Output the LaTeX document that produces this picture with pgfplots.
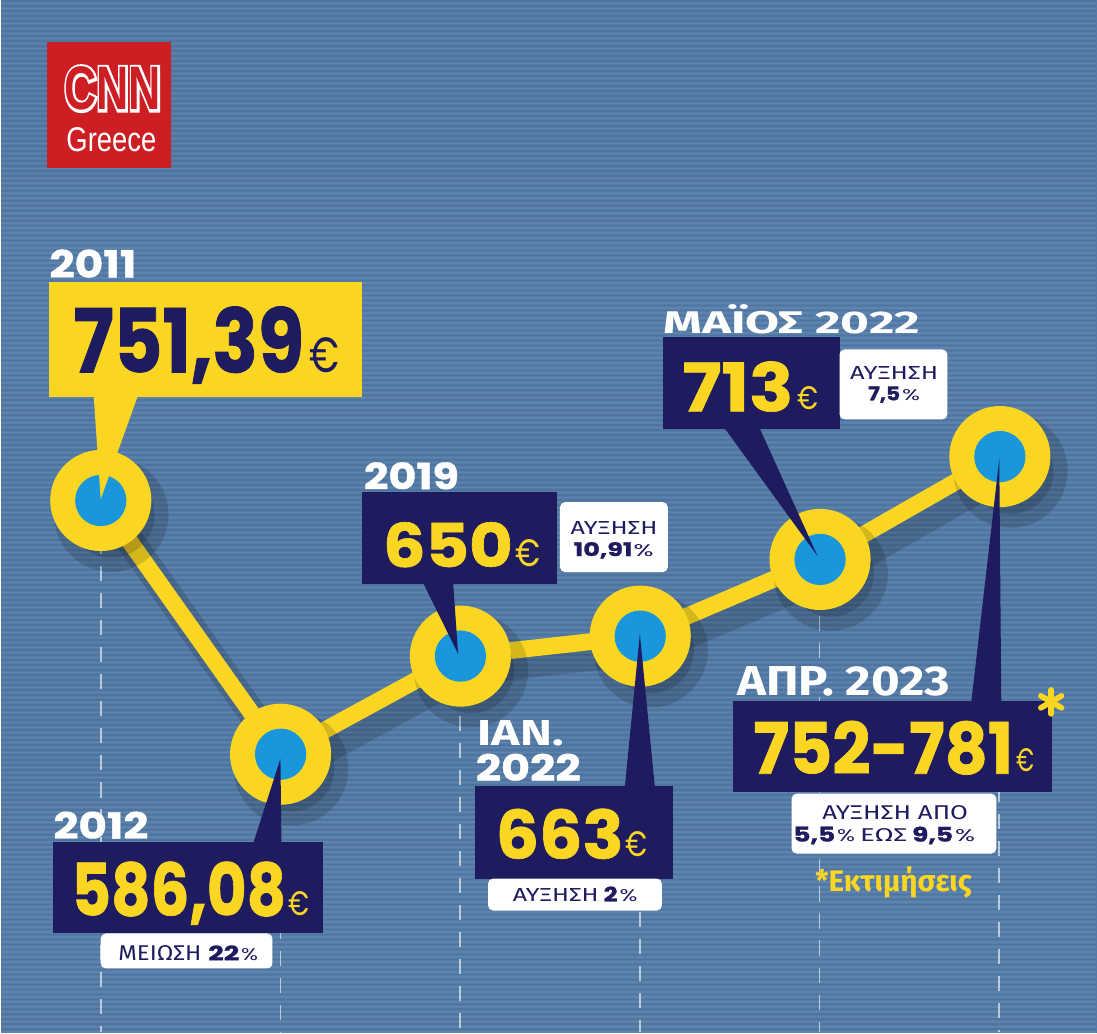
\documentclass[border=0pt]{standalone}
\usepackage{pgfplots}
\pgfplotsset{compat=1.18}
\usepackage{fontspec}
\usepackage{graphicx}
\setmainfont{Fira Sans}
\newfontfamily\numf{Poppins}[BoldFeatures={FakeBold=1}]
\newfontfamily\eurf{Poppins}
\newfontfamily\fira{Fira Sans}
\newfontfamily\helv{Liberation Sans}
\newfontfamily\cnnW{Liberation Sans}[UprightFont={* Bold},UprightFeatures={FakeBold=9}]
\newfontfamily\cnnR{Liberation Sans}[UprightFont={* Bold}]
\definecolor{bg}{RGB}{84,124,168}
\definecolor{navy}{RGB}{30,27,95}
\definecolor{yel}{RGB}{250,214,35}
\definecolor{cblue}{RGB}{25,150,220}
\definecolor{cnnred}{RGB}{204,30,35}
\newlength\px \setlength\px{0.01cm}
\newcommand\fb[3]{\resizebox{#1\px}{#2\px}{#3}}
\begin{document}
\begin{tikzpicture}
\fill[bg] (0,0) rectangle (10.97cm,10.34cm);
\begin{scope}[shift={(0cm,10.34cm)},x=0.01cm,y=-0.01cm]
  \foreach \y in {1,6,...,1034} \draw[black,opacity=0.06,line width=0.5pt] (0,\y)--(1097,\y);
  \foreach \y in {3.5,8.5,...,1034} \draw[white,opacity=0.06,line width=0.4pt] (0,\y)--(1097,\y);
  \foreach \x/\y in {100/540,280/790,460/690,640/670,820/590,1000/490}
    \draw[white,opacity=0.6,line width=0.5pt,dash pattern=on 4.3pt off 3.4pt] (\x,\y)--(\x,1034);
\end{scope}
\begin{axis}[at={(0,0)},anchor=south west,width=10.97cm,height=10.34cm,scale only axis,
  hide axis,clip=false,xmin=-0.5556,xmax=5.5389,ymin=404.5,ymax=1077.5]
\addplot[black,opacity=0.15,line width=8pt,xshift=3pt,yshift=-4pt,line join=round,mark=*,mark size=12.3pt,mark options={fill=black,draw=none}] coordinates {(0,751.39) (1,586.08) (2,650) (3,663) (4,713) (5,780)};
\addplot[yel,line width=4.8pt,line join=round,mark=*,mark size=12pt,mark options={fill=yel,draw=none}] coordinates {(0,751.39) (1,586.08) (2,650) (3,663) (4,713) (5,780)};
\addplot[cblue,only marks,mark=*,mark size=7.1pt,mark options={fill=cblue,draw=none}] coordinates {(0,751.39) (1,586.08) (2,650) (3,663) (4,713) (5,780)};
\end{axis}
\begin{scope}[shift={(0cm,10.34cm)},x=0.01cm,y=-0.01cm,every node/.style={inner sep=0pt,anchor=base west}]
  % CNN logo
  \fill[cnnred] (46,42) rectangle (170,168);
  \node[white] at (63,110) {\scalebox{1.27}[1.75]{\fontsize{10pt}{12pt}\cnnW CNN}};
  \node[cnnred] at (63,110) {\scalebox{1.27}[1.75]{\fontsize{10pt}{12pt}\cnnR CNN}};
  \node[white] at (65,152) {\fb{90}{24}{\helv Greece}};
  % 2011
  \node[white] at (48,278) {\fb{87}{28}{\numf\bfseries 2011}};
  \fill[yel] (48,282) rectangle (362,398);
  \fill[yel] (93,397) -- (137,397) -- (100,500) -- cycle;
  \node[navy] at (72,373) {\fb{231}{66}{\numf\bfseries 751,39}};
  \node[navy] at (308,373) {\fb{30}{35}{\eurf €}};
  % 2012
  \node[white] at (52,840) {\fb{95}{27}{\numf\bfseries 2012}};
  \fill[navy] (52,843) rectangle (323,935);
  \fill[navy] (253,844) -- (281,844) -- (280,760) -- cycle;
  \node[yel] at (70,917) {\fb{215}{54}{\numf\bfseries 586,08}};
  \node[yel] at (287,917) {\fb{21}{24}{\eurf €}};
  \fill[white,rounded corners=5\px] (100,935) rectangle (272,970);
  \node[navy] at (117,962) {\fb{83}{15}{\fira ΜΕΙΩΣΗ}};
  \node[navy] at (207,962) {\fb{31}{15}{\numf\bfseries 22}};
  \node[navy] at (240,962) {\fb{17}{12}{\numf \%}};
  % 2019
  \node[white] at (363,490) {\fb{95}{27}{\numf\bfseries 2019}};
  \fill[navy] (362,493) rectangle (557,585);
  \fill[navy] (423,584) -- (453,584) -- (458,655) -- cycle;
  \node[yel] at (382,568) {\fb{130}{45}{\numf\bfseries 650}};
  \node[yel] at (515,567) {\fb{25}{27}{\eurf €}};
  \fill[white,rounded corners=5\px] (560,503) rectangle (668,573);
  \node[navy] at (570,535) {\fb{87}{13}{\fira ΑΥΞΗΣΗ}};
  \node[navy] at (573,557) {\fb{59}{14}{\numf\bfseries 10,91}};
  \node[navy] at (633,557) {\fb{20}{12}{\numf \%}};
  % Jan 2022
  \node[white] at (477,747) {\fb{86}{25}{\fira\bfseries ΙΑΝ.}};
  \node[white] at (475,782) {\fb{105}{27}{\numf\bfseries 2022}};
  \fill[navy] (475,787) rectangle (673,880);
  \fill[navy] (625,788) -- (655,788) -- (640,635) -- cycle;
  \node[yel] at (495,860) {\fb{128}{50}{\numf\bfseries 663}};
  \node[yel] at (625,858) {\fb{22}{25}{\eurf €}};
  \fill[white,rounded corners=5\px] (488,880) rectangle (662,912);
  \node[navy] at (512,903) {\fb{86}{13}{\fira ΑΥΞΗΣΗ}};
  \node[navy] at (603,903) {\fb{14}{15}{\numf\bfseries 2}};
  \node[navy] at (619,903) {\fb{18}{12}{\numf \%}};
  % May 2022
  \node[white] at (663,334) {\fb{257}{29}{\fira\bfseries ΜΑΪΟΣ 2022}};
  \fill[navy] (663,338) rectangle (840,430);
  \fill[navy] (725,429) -- (760,429) -- (818,557) -- cycle;
  \node[yel] at (682,412) {\fb{111}{50}{\numf\bfseries 713}};
  \node[yel] at (797,410) {\fb{21}{23}{\eurf €}};
  \fill[white,rounded corners=5\px] (840,350) rectangle (948,420);
  \node[navy] at (850,380) {\fb{88}{13}{\fira ΑΥΞΗΣΗ}};
  \node[navy] at (868,401) {\fb{32}{14}{\numf\bfseries 7,5}};
  \node[navy] at (902,401) {\fb{18}{11}{\numf \%}};
  % Apr 2023
  \node[white] at (737,697) {\fb{213}{29}{\fira\bfseries ΑΠΡ. 2023}};
  \fill[navy] (733,702) rectangle (1053,793);
  \fill[navy] (972,703) -- (1002,703) -- (1000,460) -- cycle;
  \node[yel] at (753,775) {\fb{260}{53}{\numf\bfseries 752-781}};
  \node[yel] at (1017,773) {\fb{18}{23}{\eurf €}};
  \foreach \a in {90,30,-30,-90,-150,150}
    \draw[yel,line width=1.6pt,line cap=round] (1052,703) -- ++(\a:12);
  \fill[white,rounded corners=5\px] (792,795) rectangle (997,855);
  \node[navy] at (822,821) {\fb{146}{14}{\fira ΑΥΞΗΣΗ ΑΠΟ}};
  \node[navy] at (793,843) {\fb{42}{15}{\numf\bfseries 5,5}};
  \node[navy] at (837,843) {\fb{18}{12}{\numf \%}};
  \node[navy] at (860,843) {\fb{47}{13}{\fira ΕΩΣ}};
  \node[navy] at (912,843) {\fb{41}{15}{\numf\bfseries 9,5}};
  \node[navy] at (955,843) {\fb{20}{12}{\numf \%}};
  \node[yel] at (815,893) {\resizebox{157\px}{!}{\fira\bfseries *Εκτιμήσεις}};
\end{scope}
\end{tikzpicture}
\end{document}
